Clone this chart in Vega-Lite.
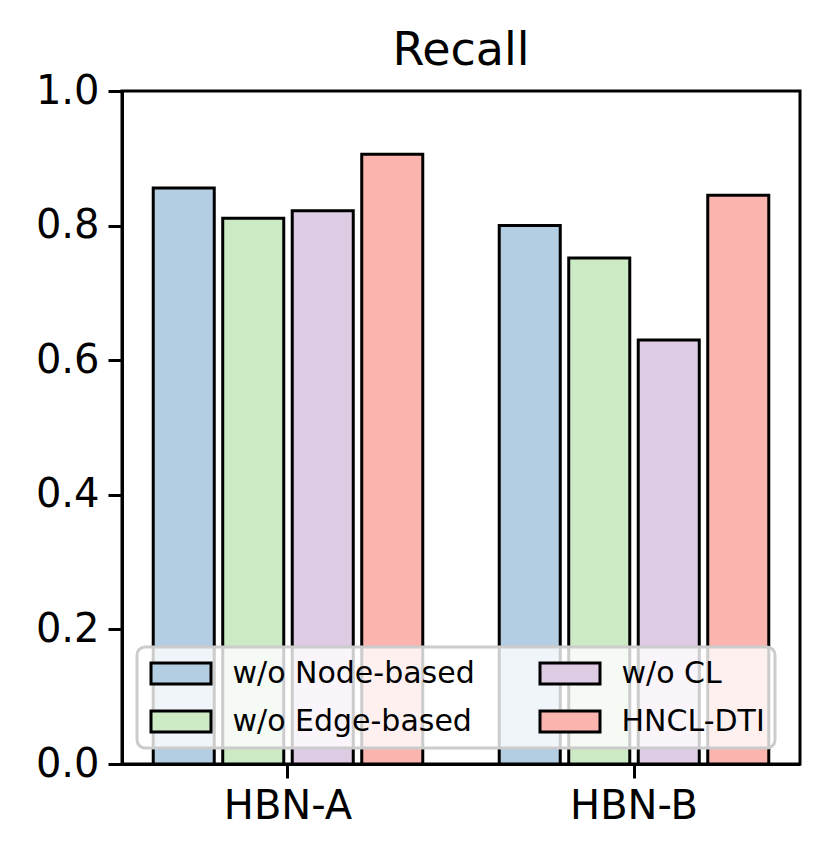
{
  "$schema": "https://vega.github.io/schema/vega-lite/v6.json",
  "autosize": {"type": "none"},
  "padding": {"left": 122, "top": 91, "right": 29, "bottom": 97},
  "width": 678,
  "height": 673,
  "background": "white",
  "title": {"text": "Recall", "fontSize": 46, "font": "DejaVu Sans", "fontWeight": "normal", "color": "black", "offset": -4},
  "data": {"values": [
    {"dataset": "HBN-A", "method": "w/o Node-based", "recall": 0.856},
    {"dataset": "HBN-A", "method": "w/o Edge-based", "recall": 0.811},
    {"dataset": "HBN-A", "method": "w/o CL", "recall": 0.822},
    {"dataset": "HBN-A", "method": "HNCL-DTI", "recall": 0.906},
    {"dataset": "HBN-B", "method": "w/o Node-based", "recall": 0.800},
    {"dataset": "HBN-B", "method": "w/o Edge-based", "recall": 0.752},
    {"dataset": "HBN-B", "method": "w/o CL", "recall": 0.630},
    {"dataset": "HBN-B", "method": "HNCL-DTI", "recall": 0.845}
  ]},
  "mark": {"type": "bar", "stroke": "black", "strokeWidth": 3, "opacity": 1},
  "encoding": {
    "x": {"field": "dataset", "type": "nominal", "scale": {"paddingInner": 0.1965, "paddingOuter": 0.078},
      "axis": {"title": null, "labelAngle": 0, "labelFontSize": 40, "labelFont": "DejaVu Sans", "labelColor": "black", "tickSize": 14, "tickWidth": 3, "tickColor": "black", "domainColor": "black", "domainWidth": 3, "labelPadding": 8, "grid": false}},
    "xOffset": {"field": "method", "type": "nominal", "scale": {"domain": ["w/o Node-based", "w/o Edge-based", "w/o CL", "HNCL-DTI"], "paddingInner": 0.122, "paddingOuter": 0.061}},
    "y": {"field": "recall", "type": "quantitative", "scale": {"domain": [0, 1], "nice": false},
      "axis": {"title": null, "values": [0, 0.2, 0.4, 0.6, 0.8, 1.0], "format": ".1f", "labelFontSize": 40, "labelFont": "DejaVu Sans", "labelColor": "black", "tickSize": 14, "tickWidth": 3, "tickColor": "black", "domainColor": "black", "domainWidth": 3, "labelPadding": 9, "grid": false}},
    "color": {"field": "method", "type": "nominal",
      "scale": {"domain": ["w/o Node-based", "w/o Edge-based", "w/o CL", "HNCL-DTI"], "range": ["#b3cde3", "#ccebc5", "#decbe4", "#fbb4ae"]},
      "legend": {"title": null, "orient": "none", "legendX": 15, "legendY": 556, "direction": "horizontal", "columns": 2,
        "values": ["w/o Node-based", "w/o CL", "w/o Edge-based", "HNCL-DTI"],
        "symbolType": "M-2,-0.7L2,-0.7L2,0.7L-2,0.7Z", "symbolSize": 900, "symbolOffset": 17.5, "symbolStrokeColor": "black", "symbolStrokeWidth": 3, "symbolOpacity": 1,
        "labelFontSize": 30, "labelFont": "DejaVu Sans", "labelColor": "black", "labelOffset": 35, "columnPadding": 59, "rowPadding": 15,
        "padding": 10, "fillColor": "rgba(255,255,255,0.8)", "strokeColor": "#cccccc", "cornerRadius": 8, "labelLimit": 400,
        "encode": {"legend": {"update": {"strokeWidth": {"value": 3}}}}}}
  },
  "config": {"view": {"stroke": "black", "strokeWidth": 3}}
}
